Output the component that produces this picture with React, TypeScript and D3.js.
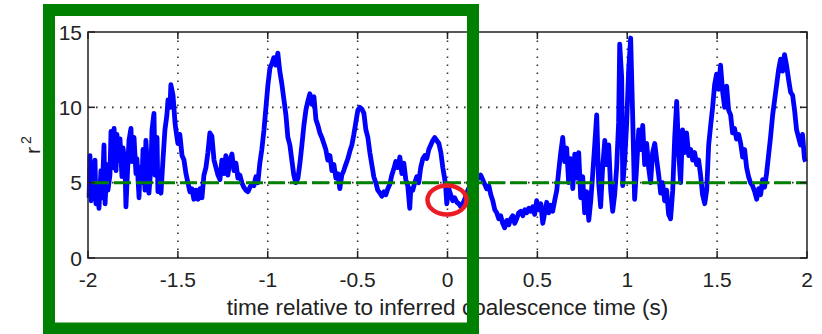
import React from 'react'
import * as d3 from 'd3'

// tick values and labels
const xTicks = [-2, -1.5, -1, -0.5, 0, 0.5, 1, 1.5, 2]
const yTicks = [0, 5, 10, 15]
const threshold = 5
const xLabel = 'time relative to inferred coalescence time (s)'

// [time (s), r^2]
const r2Trace: [number, number][] = [
  [-1.994, 4.0], [-1.989, 6.8], [-1.983, 3.8], [-1.978, 5.5], [-1.972, 4.2], [-1.961, 6.5],
  [-1.956, 3.6], [-1.944, 4.5], [-1.939, 3.3], [-1.928, 5.8], [-1.922, 4.0], [-1.911, 7.5],
  [-1.905, 3.6], [-1.894, 6.2], [-1.889, 4.5], [-1.878, 5.5], [-1.872, 8.4], [-1.861, 6.0],
  [-1.855, 8.6], [-1.844, 5.8], [-1.839, 8.2], [-1.828, 6.5], [-1.822, 7.9], [-1.811, 5.4],
  [-1.805, 7.3], [-1.794, 6.2], [-1.789, 3.4], [-1.783, 5.0], [-1.772, 7.8], [-1.761, 8.6],
  [-1.755, 6.4], [-1.744, 8.0], [-1.733, 5.6], [-1.728, 6.6], [-1.716, 4.0], [-1.711, 6.0],
  [-1.7, 5.0], [-1.694, 7.2], [-1.683, 4.5], [-1.678, 7.8], [-1.666, 5.4], [-1.661, 4.3],
  [-1.65, 6.0], [-1.644, 8.5], [-1.633, 9.6], [-1.627, 5.5], [-1.616, 8.0], [-1.611, 4.4],
  [-1.6, 4.8], [-1.594, 4.3], [-1.583, 6.5], [-1.572, 8.5], [-1.561, 9.5], [-1.555, 10.5],
  [-1.544, 10.0], [-1.539, 11.5], [-1.527, 10.8], [-1.516, 9.0], [-1.511, 8.5], [-1.5, 7.6],
  [-1.489, 8.2], [-1.477, 6.8], [-1.466, 6.5], [-1.455, 5.6], [-1.444, 5.0], [-1.433, 4.4],
  [-1.422, 4.6], [-1.411, 3.9], [-1.4, 4.5], [-1.388, 3.9], [-1.377, 4.6], [-1.366, 4.0],
  [-1.355, 5.5], [-1.344, 6.0], [-1.333, 7.0], [-1.322, 8.3], [-1.311, 8.1], [-1.299, 6.5],
  [-1.288, 6.0], [-1.277, 5.5], [-1.266, 5.2], [-1.255, 6.5], [-1.244, 5.6], [-1.233, 6.8],
  [-1.222, 5.5], [-1.21, 6.5], [-1.199, 6.9], [-1.188, 5.8], [-1.177, 6.3], [-1.166, 5.3],
  [-1.155, 5.5], [-1.144, 5.0], [-1.133, 4.7], [-1.122, 4.5], [-1.11, 4.4], [-1.099, 4.7],
  [-1.088, 4.9], [-1.077, 4.8], [-1.066, 5.4], [-1.055, 5.0], [-1.044, 6.3], [-1.033, 7.2],
  [-1.021, 8.5], [-1.01, 10.0], [-0.999, 11.5], [-0.988, 12.6], [-0.977, 12.9], [-0.966, 13.3],
  [-0.955, 12.8], [-0.944, 13.6], [-0.933, 12.4], [-0.921, 11.5], [-0.91, 10.5], [-0.899, 9.5],
  [-0.888, 8.0], [-0.877, 7.5], [-0.866, 6.5], [-0.855, 5.5], [-0.844, 5.0], [-0.832, 5.3],
  [-0.821, 6.3], [-0.81, 7.5], [-0.799, 8.8], [-0.788, 9.8], [-0.777, 10.4], [-0.766, 10.9],
  [-0.755, 10.2], [-0.743, 10.7], [-0.732, 9.2], [-0.721, 8.8], [-0.71, 8.3], [-0.699, 8.0],
  [-0.688, 7.6], [-0.677, 7.2], [-0.666, 6.5], [-0.654, 6.8], [-0.643, 5.8], [-0.632, 6.2],
  [-0.621, 5.3], [-0.61, 5.6], [-0.599, 4.6], [-0.588, 5.5], [-0.577, 5.8], [-0.566, 6.2],
  [-0.554, 6.6], [-0.543, 7.1], [-0.532, 7.5], [-0.521, 8.2], [-0.51, 9.0], [-0.499, 9.8],
  [-0.488, 10.0], [-0.477, 9.9], [-0.465, 9.6], [-0.454, 8.5], [-0.443, 8.0], [-0.432, 7.0],
  [-0.421, 6.2], [-0.41, 5.4], [-0.399, 5.0], [-0.388, 4.5], [-0.376, 4.3], [-0.365, 4.1],
  [-0.354, 4.4], [-0.343, 4.2], [-0.332, 4.6], [-0.321, 4.9], [-0.31, 5.5], [-0.299, 5.9],
  [-0.288, 6.4], [-0.276, 6.0], [-0.265, 6.7], [-0.254, 5.6], [-0.243, 6.3], [-0.232, 5.2],
  [-0.221, 4.8], [-0.21, 3.3], [-0.204, 4.6], [-0.193, 4.5], [-0.182, 5.0], [-0.171, 5.4],
  [-0.16, 5.0], [-0.149, 6.0], [-0.137, 6.6], [-0.126, 6.8], [-0.115, 6.6], [-0.104, 7.2],
  [-0.093, 7.5], [-0.082, 7.8], [-0.071, 8.0], [-0.06, 7.8], [-0.048, 7.6], [-0.037, 7.0],
  [-0.026, 6.0], [-0.015, 5.2], [-0.01, 4.7], [-0.004, 3.6], [0.007, 4.6], [0.018, 4.2],
  [0.029, 3.8], [0.04, 4.0], [0.052, 3.7], [0.063, 3.6], [0.074, 3.4], [0.085, 3.6],
  [0.096, 3.9], [0.113, 4.5], [0.129, 4.9], [0.146, 5.3], [0.163, 5.4], [0.174, 5.3],
  [0.185, 5.5], [0.196, 5.2], [0.207, 4.9], [0.218, 4.6], [0.23, 4.8], [0.241, 4.2],
  [0.252, 3.8], [0.263, 3.2], [0.274, 3.0], [0.285, 2.6], [0.296, 2.8], [0.307, 2.3],
  [0.318, 2.0], [0.33, 2.5], [0.341, 2.2], [0.352, 2.6], [0.363, 2.8], [0.374, 2.3],
  [0.385, 2.6], [0.396, 3.0], [0.407, 3.1], [0.419, 2.8], [0.43, 3.2], [0.441, 3.0],
  [0.452, 3.3], [0.463, 3.1], [0.474, 3.4], [0.485, 2.9], [0.496, 3.8], [0.508, 3.2],
  [0.519, 3.6], [0.53, 2.3], [0.541, 3.0], [0.552, 3.7], [0.563, 3.0], [0.574, 3.5],
  [0.585, 3.1], [0.596, 3.8], [0.608, 4.5], [0.619, 5.8], [0.63, 7.0], [0.641, 8.0],
  [0.652, 6.4], [0.663, 7.3], [0.674, 5.0], [0.685, 6.6], [0.697, 4.6], [0.708, 6.9],
  [0.719, 5.3], [0.73, 7.0], [0.741, 4.0], [0.752, 5.4], [0.763, 3.0], [0.774, 4.4],
  [0.786, 2.5], [0.797, 3.8], [0.808, 5.6], [0.819, 7.5], [0.83, 9.5], [0.841, 5.0],
  [0.852, 3.4], [0.863, 6.0], [0.875, 7.8], [0.886, 6.2], [0.897, 7.5], [0.908, 4.5],
  [0.919, 3.1], [0.93, 4.2], [0.941, 6.0], [0.952, 9.0], [0.958, 14.2], [0.969, 12.0],
  [0.975, 4.8], [0.986, 6.5], [0.997, 9.0], [1.008, 12.5], [1.019, 14.6], [1.03, 9.5],
  [1.041, 3.9], [1.052, 6.0], [1.064, 8.5], [1.075, 7.2], [1.086, 8.8], [1.097, 6.2],
  [1.108, 7.6], [1.119, 6.0], [1.13, 5.0], [1.141, 7.0], [1.153, 7.6], [1.164, 6.5],
  [1.175, 5.5], [1.186, 4.3], [1.197, 5.0], [1.208, 3.8], [1.219, 4.5], [1.23, 2.9],
  [1.241, 2.6], [1.253, 4.5], [1.264, 8.0], [1.275, 10.4], [1.286, 7.0], [1.297, 5.0],
  [1.308, 8.5], [1.319, 7.0], [1.33, 8.3], [1.342, 6.8], [1.353, 7.2], [1.364, 6.5],
  [1.375, 7.0], [1.386, 6.2], [1.397, 6.5], [1.408, 5.5], [1.419, 4.2], [1.431, 3.6],
  [1.442, 4.5], [1.453, 7.5], [1.464, 8.8], [1.475, 10.0], [1.486, 11.5], [1.497, 12.2],
  [1.508, 11.2], [1.519, 12.8], [1.531, 11.0], [1.542, 10.0], [1.553, 11.4], [1.564, 9.8],
  [1.575, 9.5], [1.586, 8.3], [1.597, 8.6], [1.608, 7.9], [1.62, 8.2], [1.631, 7.6],
  [1.642, 6.7], [1.653, 7.2], [1.664, 6.0], [1.675, 5.4], [1.686, 5.0], [1.697, 4.8],
  [1.709, 4.4], [1.72, 3.9], [1.731, 4.6], [1.742, 4.2], [1.753, 5.2], [1.764, 4.7],
  [1.775, 5.6], [1.786, 6.8], [1.797, 8.0], [1.809, 9.5], [1.82, 10.5], [1.831, 11.5],
  [1.842, 12.5], [1.853, 13.2], [1.864, 12.4], [1.875, 13.5], [1.886, 12.8], [1.898, 11.8],
  [1.909, 11.0], [1.92, 10.8], [1.931, 9.8], [1.942, 8.5], [1.953, 8.0], [1.964, 7.5],
  [1.975, 8.2], [1.986, 6.6], [1.992, 6.4]
]

// highlighted point (red ring) in data units
const markT = 0.0
const markV = 3.85

const W = 822
const H = 334
const margin = {top: 32, right: 15, bottom: 76, left: 88}
const font = 'Liberation Sans, Arial, sans-serif'

export default function App() {
  const x = d3
    .scaleLinear()
    .domain([-2, 2])
    .range([margin.left, W - margin.right])
  const y = d3
    .scaleLinear()
    .domain([0, 15])
    .range([H - margin.bottom, margin.top])

  const line = d3
    .line<[number, number]>()
    .x(d => x(d[0]))
    .y(d => y(d[1]))

  const x0 = x(-2)
  const x1 = x(2)
  const y0 = y(0)
  const y1 = y(15)
  const tickLen = 7

  return (
    <svg
      width={W}
      height={H}
      style={{position: 'absolute', left: 0, top: 0, background: '#fff'}}
      fontFamily={font}
    >
      {/* dotted grid */}
      <g stroke="#333" strokeWidth={1.6} strokeDasharray="1.6 6.4">
        {xTicks.slice(1, -1).map(t => (
          <line key={'gx' + t} x1={x(t)} x2={x(t)} y1={y0} y2={y1} />
        ))}
        {yTicks.slice(1, -1).map(t => (
          <line key={'gy' + t} x1={x0} x2={x1} y1={y(t)} y2={y(t)} />
        ))}
      </g>

      {/* r^2 trace */}
      <path
        d={line(r2Trace) || ''}
        fill="none"
        stroke="#0000ff"
        strokeWidth={4.8}
        strokeLinejoin="round"
      />

      {/* threshold */}
      <line
        x1={x(-2) + 4}
        x2={x1}
        y1={y(threshold)}
        y2={y(threshold)}
        stroke="#008000"
        strokeWidth={3}
        strokeDasharray="17 5"
      />

      {/* box + ticks */}
      <rect
        x={x0}
        y={y1}
        width={x1 - x0}
        height={y0 - y1}
        fill="none"
        stroke="#222"
        strokeWidth={1.5}
      />
      <g stroke="#222" strokeWidth={1.5}>
        {xTicks.map(t => (
          <g key={'tx' + t}>
            <line x1={x(t)} x2={x(t)} y1={y0} y2={y0 - tickLen} />
            <line x1={x(t)} x2={x(t)} y1={y1} y2={y1 + tickLen} />
          </g>
        ))}
        {yTicks.map(t => (
          <g key={'ty' + t}>
            <line x1={x0} x2={x0 + tickLen} y1={y(t)} y2={y(t)} />
            <line x1={x1} x2={x1 - tickLen} y1={y(t)} y2={y(t)} />
          </g>
        ))}
      </g>

      <g fontSize={21} fill="#222">
        {xTicks.map(t => (
          <text key={'lx' + t} x={x(t)} y={y0 + 29} textAnchor="middle">
            {String(t)}
          </text>
        ))}
        {yTicks.map(t => (
          <text key={'ly' + t} x={x0 - 6} y={y(t) + 7.5} textAnchor="end">
            {String(t)}
          </text>
        ))}
      </g>

      <text
        x={(x0 + x1) / 2}
        y={315}
        textAnchor="middle"
        fontSize={22.5}
        fill="#222"
      >
        {xLabel}
      </text>

      <text
        transform={`translate(40,${(y0 + y1) / 2}) rotate(-90)`}
        textAnchor="middle"
        fontSize={21}
        fill="#222"
      >
        r
        <tspan dx={3} dy={-9} fontSize={14}>
          2
        </tspan>
      </text>

      {/* annotations */}
      <rect
        x={49}
        y={10}
        width={424}
        height={318.5}
        fill="none"
        stroke="#008000"
        strokeWidth={12}
      />
      <ellipse
        cx={x(markT) - 0.5}
        cy={y(markV)}
        rx={19.5}
        ry={14.5}
        fill="none"
        stroke="#ed1c24"
        strokeWidth={4.5}
      />
    </svg>
  )
}
